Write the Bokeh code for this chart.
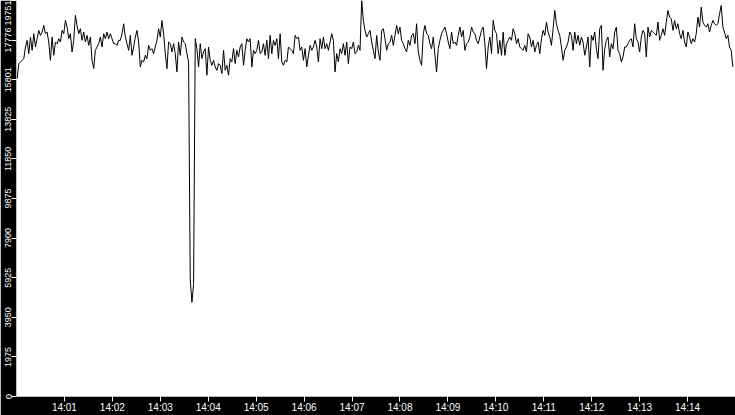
import numpy as np
import pandas as pd
from bokeh.plotting import figure
from bokeh.models import Range1d, FixedTicker, DatetimeTickFormatter
from bokeh.embed import file_html
from bokeh.resources import INLINE

# ---- data ----
day = "2024-01-01 "
first_sample = "14:00:00.8"
last_sample = "14:14:56.7"
x_start = "14:00:00"
x_end = "14:15:00"
y_max = 19751

values_part1 = [
    15857, 16603, 16686, 16768, 16851, 17431, 17763, 17100, 17928, 17265,
    18094, 17431, 17845, 18260, 18011, 18177, 18508, 18094, 18177, 17680,
    16768, 17928, 17017, 17680, 17597, 17845, 17680, 18260, 18094, 18757,
    18425, 17845, 18094, 17183, 17763, 19005, 18508, 18094, 18343, 17763,
    18177, 17680, 18011, 17514, 17928, 16768, 16354, 17265, 17431, 17597,
    17928, 17431, 18094, 17845, 18177, 17845, 18094, 17845, 17597, 17597,
    17514, 17763, 17763, 18094, 18591, 17928, 17597, 17265, 18011, 17017,
    17431,
]
values_part2 = [
    17928, 18260, 17680, 16437, 16768, 16686, 17017, 16851, 17514, 17265,
    17348, 17100, 17431, 17763, 18343, 17928, 18757, 18094, 17100, 16354,
    17680, 17597, 17183, 17597, 17100, 16188, 17680, 17017, 17928, 17680,
    17597, 17100, 16686, 5840, 4696, 5590, 17845, 17348, 16437, 17597,
    16851, 17183, 17348, 16023, 17431, 16768, 16520, 16768, 16437, 16271,
    16603, 16520, 16106, 17265, 16271, 16520, 16023, 16851, 16686, 17348,
    16603, 17265, 16934, 17431, 17597, 16520, 17265, 17845, 17680, 17845,
    16437, 17265,
]
values_part3 = [
    17100, 17265, 17763, 17100, 17183, 17597, 17017, 17763, 16851, 18011,
    17100, 17763, 17514, 17845, 16851, 18094, 16686, 16520, 16768, 16686,
    17431, 17348, 17265, 17100, 18011, 17845, 17928, 17265, 17431, 16768,
    17348, 16437, 17017, 17514, 17265, 17431, 17763, 17431, 16686, 17845,
    17348, 17928, 17348, 17597, 17265, 17680, 18094, 17763, 16188, 17100,
    16686, 17348, 17100, 17597, 17017, 17680, 16603, 17431, 17348, 17680,
    17100, 17183, 17514, 17265, 19751, 18757, 18260, 17928, 18094, 18260,
    17680, 17265,
]
values_part4 = [
    16851, 18011, 17183, 16768, 18260, 18343, 17845, 17265, 17597, 17680,
    18011, 17514, 18011, 18508, 18094, 18425, 17763, 17597, 17348, 17183,
    17763, 17514, 18011, 18094, 17597, 18591, 17183, 16768, 16520, 18094,
    18508, 18094, 18011, 17597, 17348, 17928, 17017, 16188, 17348, 17763,
    18094, 18260, 18425, 18094, 17680, 17348, 18177, 17597, 17680, 17514,
    18011, 18425, 17928, 18260, 17265, 17597, 17680, 17928, 18425, 18177,
    18094, 17763, 17597, 17928, 18260, 18425, 17597, 16354, 17431, 17928,
    17100, 18757,
]
values_part5 = [
    18260, 18094, 17100, 17763, 17017, 18177, 17017, 17597, 17763, 17928,
    17763, 18343, 18094, 17597, 17845, 17431, 17348, 17265, 17514, 17183,
    18094, 17928, 17431, 17763, 17183, 17514, 17680, 17100, 17845, 18260,
    18011, 18674, 18177, 17928, 17514, 18343, 19254, 18591, 18260, 18011,
    17431, 16768, 17265, 17431, 17680, 18177, 18011, 17265, 18177, 17597,
    18011, 17514, 17928, 17680, 17017, 17431, 17928, 16437, 18011, 17763,
    18177, 17348, 16851, 18343, 18508, 16271, 17348, 17763, 17928, 16934,
    17597, 17348,
]
values_part6 = [
    18177, 18425, 17265, 17100, 16686, 16934, 17431, 17431, 17597, 17763,
    17845, 17431, 18591, 17845, 17680, 17183, 17928, 18260, 18094, 16934,
    18425, 17928, 18260, 18177, 18094, 18011, 18674, 17763, 18011, 18343,
    18011, 18674, 19254, 18922, 18840, 18260, 18757, 18343, 18591, 18094,
    17845, 18260, 17680, 17431, 18177, 17928, 17597, 17845, 17680, 18094,
    18922, 18425, 19420, 18674, 18508, 18425, 18591, 18177, 18508, 18757,
    18591, 18508, 18591, 19088, 19502, 18425, 18177, 17845, 18011, 17431,
    17265, 16437,
]

y_tick_values = [0, 1975, 3950, 5925, 7900, 9875, 11850, 13825, 15801, 17776, 19751]
x_tick_labels = ["14:01", "14:02", "14:03", "14:04", "14:05", "14:06", "14:07",
                 "14:08", "14:09", "14:10", "14:11", "14:12", "14:13", "14:14"]

# ---- build ----
values = (values_part1 + values_part2 + values_part3 +
          values_part4 + values_part5 + values_part6)
t0 = pd.Timestamp(day + first_sample)
t1 = pd.Timestamp(day + last_sample)
times = pd.to_datetime(np.linspace(t0.value, t1.value, len(values)))

x_ticks_ms = [pd.Timestamp(day + s).value / 1e6 for s in x_tick_labels]

p = figure(width=735, height=415, x_axis_type="datetime",
           output_backend="svg", toolbar_location=None,
           x_range=Range1d(pd.Timestamp(day + x_start), pd.Timestamp(day + x_end)),
           y_range=Range1d(0, y_max),
           min_border_left=16, min_border_right=0,
           min_border_top=0, min_border_bottom=16,
           border_fill_color="black", background_fill_color="white",
           outline_line_color=None)
p.styles = {"position": "absolute", "left": "0px", "top": "0px"}

p.grid.visible = False

p.line(times, values, line_color="black", line_width=1)

xa = p.xaxis[0]
xa.ticker = FixedTicker(ticks=x_ticks_ms)
fmt = "%H:%M"
xa.formatter = DatetimeTickFormatter(seconds=fmt, minsec=fmt, minutes=fmt,
                                     hourmin=fmt, hours=fmt)
ya = p.yaxis[0]
ya.ticker = FixedTicker(ticks=y_tick_values)
ya.major_label_orientation = "vertical"

for ax in (xa, ya):
    ax.axis_line_color = None
    ax.major_tick_line_color = "white"
    ax.major_tick_in = 0
    ax.major_tick_out = 5
    ax.minor_tick_line_color = None
    ax.major_label_text_color = "white"
    ax.major_label_standoff = 0

xa.major_label_text_font = "Liberation Sans"
xa.major_label_text_font_size = "10px"
ya.major_label_text_font = "Liberation Sans"
ya.major_label_text_font_size = "9px"

open("out.html", "w").write(file_html(p, INLINE))
